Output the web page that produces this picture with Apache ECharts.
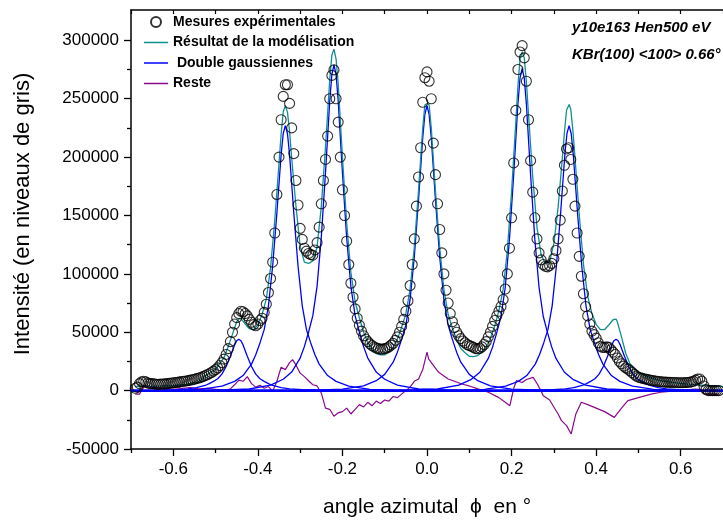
<!DOCTYPE html>
<html><head><meta charset="utf-8">
<script src="https://cdn.jsdelivr.net/npm/echarts@6/dist/echarts.min.js"></script>
<style>html,body{margin:0;padding:0;background:#fff}#c{width:723px;height:530px}</style>
</head><body><div id="c"></div>
<script>
// ---------- data ----------
const xTickLabels = [-0.6, -0.4, -0.2, 0, 0.2, 0.4, 0.6];
const xMinorTicks = [-0.7, -0.5, -0.3, -0.1, 0.1, 0.3, 0.5];
const yTickLabels = [-50000, 0, 50000, 100000, 150000, 200000, 250000, 300000];
const yMinorTicks = [-25000, 25000, 75000, 125000, 175000, 225000, 275000];

// measured points: sampled every 0.005 from -0.69
const mesStart = -0.69, mesStep = 0.005;
const mesValues = [
 2000,3000,6000,7500,8000,7500,6500,6000,6000,5800,
 5500,5500,5600,5700,5800,6000,6200,6500,6800,7000,
 7200,7500,7800,8000,8300,8600,9000,9300,9800,10300,
 10800,11300,12000,12800,13600,14500,15500,16700,18000,19500,
 21500,24000,27000,31000,36000,42000,50000,57000,62500,66000,
 68000,67500,66000,64000,61000,58500,56500,55500,57000,60000,
 62000,67000,74000,84000,96000,110000,135000,168000,200000,232000,
 252000,262000,262000,246000,225000,203000,180000,159000,139000,129500,
 122000,119500,117500,116500,116000,120500,126800,140000,160000,180000,
 198000,218000,250000,270000,274700,250000,230000,200000,172000,150000,
 128000,108000,92000,80000,70000,62000,56000,51000,47000,44000,
 42000,40000,38500,37500,36500,36000,35500,35500,36000,36500,
 37500,39000,40500,43000,46000,50000,55000,61000,68000,77000,
 90000,108000,130000,158000,183000,208000,247000,268000,273000,265000,
 250000,212000,185000,160000,138000,118000,100000,86000,75000,66000,
 59000,54000,50000,47000,44500,42500,41000,39500,38500,38000,
 37000,36000,35800,36300,37500,39500,42000,46000,50000,55000,
 60000,64000,68000,72000,78000,87000,100000,122000,148000,195000,
 240000,275000,290000,295500,285000,265000,232000,197000,170000,148000,
 130000,118000,112000,108000,106500,106000,107000,109000,113000,120000,
 130000,146000,171000,193000,207000,208000,198000,181000,158000,135000,
 115000,98000,83000,72000,64000,57000,51000,48000,45000,41000,
 38000,37000,37000,37500,37000,35000,33000,31000,28000,25000,
 23000,21000,19500,18500,17000,15500,14000,12500,11500,11000,
 10500,10000,9600,9200,8900,8600,8300,8000,7800,7600,
 7400,7300,7200,7100,7000,7000,6900,6800,6800,6800,
 6900,7000,7200,7500,8000,9000,10000,10000,8000,4000,
 1000,0,0,0,0,0,0
];

// model (sum) curve
const modelX = [-0.69,-0.66,-0.63,-0.60,-0.57,-0.54,-0.52,-0.50,-0.48,-0.47,
 -0.46,-0.45,-0.445,-0.44,-0.43,-0.42,-0.41,-0.40,-0.39,-0.38,
 -0.37,-0.36,-0.35,-0.345,-0.34,-0.335,-0.33,-0.325,-0.32,-0.31,
 -0.30,-0.29,-0.28,-0.27,-0.26,-0.25,-0.24,-0.23,-0.225,-0.22,
 -0.215,-0.21,-0.20,-0.19,-0.18,-0.17,-0.16,-0.15,-0.14,-0.13,
 -0.12,-0.11,-0.10,-0.09,-0.08,-0.07,-0.06,-0.05,-0.04,-0.03,
 -0.02,-0.01,-0.005,0,0.005,0.01,0.02,0.03,0.04,0.05,
 0.06,0.07,0.08,0.09,0.10,0.11,0.12,0.13,0.14,0.15,
 0.16,0.17,0.18,0.19,0.20,0.21,0.215,0.22,0.225,0.23,
 0.235,0.24,0.25,0.26,0.27,0.28,0.29,0.30,0.31,0.32,
 0.325,0.33,0.336,0.34,0.345,0.35,0.36,0.37,0.38,0.39,
 0.40,0.41,0.42,0.43,0.44,0.447,0.45,0.46,0.47,0.48,
 0.50,0.52,0.55,0.58,0.61,0.64,0.67,0.70];
const modelY = [3600,3700,3900,4400,5300,7500,13500,18300,28300,37700,
 48400,59000,61500,61600,57100,53000,52100,56400,65100,78600,
 104900,145900,194400,219700,238800,244000,238500,222000,199000,158500,
 123800,110000,109000,111000,122800,157600,208600,266400,287300,292500,
 284000,262800,200300,143500,101400,76100,62400,50200,41100,35800,
 31700,30700,30600,33400,37200,44100,54300,65700,87000,123000,
 171800,225400,244700,246000,244800,225400,171200,122800,86800,65200,
 53700,43800,36100,32500,29450,29200,30000,32800,37400,44700,
 55300,68500,86500,120000,170400,229800,260700,284000,290000,285000,
 264800,236600,183300,140300,116100,109000,110700,125900,156700,199000,
 221100,240100,245000,241000,222900,199500,150900,108400,81000,66100,
 56800,52200,52300,56200,60700,61300,59000,46000,32000,23000,
 15500,12000,8500,7000,5800,5000,4200,3600];

// individual fitted components [angle, value]
const compA = [[-0.7,0],[-0.645,220],[-0.595,750],[-0.565,1540],[-0.545,2510],[-0.525,4400],[-0.515,5940],[-0.505,7920],[-0.495,10120],[-0.485,14080],[-0.475,20680],[-0.465,29480],[-0.455,39160],[-0.45,42680],[-0.445,44000],[-0.44,42680],[-0.435,39160],[-0.425,29480],[-0.415,20680],[-0.405,14080],[-0.395,10120],[-0.385,7920],[-0.375,5940],[-0.365,4400],[-0.345,2510],[-0.325,1540],[-0.295,750],[-0.245,220],[-0.145,0],[0.7,0]];
const compB = [[-0.7,0],[-0.635,0],[-0.535,1135],[-0.485,3860],[-0.455,7950],[-0.435,12940],[-0.415,22700],[-0.405,30650],[-0.395,40860],[-0.385,52210],[-0.375,72640],[-0.365,106690],[-0.355,152090],[-0.345,202030],[-0.34,220190],[-0.335,227000],[-0.33,220190],[-0.325,202030],[-0.315,152090],[-0.305,106690],[-0.295,72640],[-0.285,52210],[-0.275,40860],[-0.265,30650],[-0.255,22700],[-0.235,12940],[-0.215,7950],[-0.185,3860],[-0.135,1135],[-0.035,0],[0.7,0]];
const compC = [[-0.7,0],[-0.52,0],[-0.42,1395],[-0.37,4740],[-0.34,9770],[-0.32,15900],[-0.30,27900],[-0.29,37670],[-0.28,50220],[-0.27,64170],[-0.26,89280],[-0.25,131130],[-0.24,186930],[-0.23,248310],[-0.225,270630],[-0.22,279000],[-0.215,270630],[-0.21,248310],[-0.20,186930],[-0.19,131130],[-0.18,89280],[-0.17,64170],[-0.16,50220],[-0.15,37670],[-0.14,27900],[-0.12,15900],[-0.10,9770],[-0.07,4740],[-0.02,1395],[0.08,0],[0.7,0]];
const compD = [[-0.7,0],[-0.3,0],[-0.2,1220],[-0.15,4150],[-0.12,8540],[-0.10,13910],[-0.08,24400],[-0.07,32940],[-0.06,43920],[-0.05,56120],[-0.04,78080],[-0.03,114680],[-0.02,163480],[-0.01,217160],[-0.005,236680],[0,244000],[0.005,236680],[0.01,217160],[0.02,163480],[0.03,114680],[0.04,78080],[0.05,56120],[0.06,43920],[0.07,32940],[0.08,24400],[0.10,13910],[0.12,8540],[0.15,4150],[0.2,1220],[0.3,0],[0.7,0]];
const compE = [[-0.7,0],[-0.075,0],[0.025,1380],[0.075,4690],[0.105,9660],[0.125,15730],[0.145,27600],[0.155,37260],[0.165,49680],[0.175,63480],[0.185,88320],[0.195,129720],[0.205,184920],[0.215,245640],[0.22,267720],[0.225,276000],[0.23,267720],[0.235,245640],[0.245,184920],[0.255,129720],[0.265,88320],[0.275,63480],[0.285,49680],[0.295,37260],[0.305,27600],[0.325,15730],[0.345,9660],[0.375,4690],[0.425,1380],[0.525,0],[0.7,0]];
const compF = [[-0.7,0],[0.036,0],[0.136,1135],[0.186,3860],[0.216,7950],[0.236,12940],[0.256,22700],[0.266,30650],[0.276,40860],[0.286,52210],[0.296,72640],[0.306,106690],[0.316,152090],[0.326,202030],[0.331,220190],[0.336,227000],[0.341,220190],[0.346,202030],[0.356,152090],[0.366,106690],[0.376,72640],[0.386,52210],[0.396,40860],[0.406,30650],[0.416,22700],[0.436,12940],[0.456,7950],[0.486,3860],[0.536,1135],[0.636,0],[0.7,0]];
const compG = [[-0.7,0],[0.147,0],[0.247,220],[0.297,750],[0.327,1540],[0.347,2510],[0.367,4400],[0.377,5940],[0.387,7920],[0.397,10120],[0.407,14080],[0.417,20680],[0.427,29480],[0.437,39160],[0.442,42680],[0.447,44000],[0.452,42680],[0.457,39160],[0.467,29480],[0.477,20680],[0.487,14080],[0.497,10120],[0.507,7920],[0.517,5940],[0.527,4400],[0.547,2510],[0.567,1540],[0.597,750],[0.647,220],[0.7,0]];
const baseline = [[-0.7,0],[0.7,0]];

// residual
const resteData = [[-0.69,-3000],[-0.68,-3000],[-0.675,0],[-0.67,3000],[-0.66,3500],[-0.64,2500],[-0.62,2000],[-0.60,2500],[-0.58,2000],[-0.56,2500],[-0.54,1500],[-0.52,2000],[-0.50,1000],[-0.48,0],[-0.465,1500],[-0.455,5000],[-0.445,9000],[-0.435,8000],[-0.425,12000],[-0.415,6000],[-0.405,3000],[-0.395,4500],[-0.385,2000],[-0.375,3500],[-0.365,-500],[-0.355,8000],[-0.345,20000],[-0.335,18000],[-0.325,24000],[-0.318,26500],[-0.31,22000],[-0.30,15000],[-0.29,12000],[-0.28,8500],[-0.27,5000],[-0.26,4000],[-0.25,-2000],[-0.24,-15000],[-0.23,-16000],[-0.22,-22000],[-0.21,-19000],[-0.20,-18000],[-0.19,-15000],[-0.18,-20000],[-0.17,-16000],[-0.16,-12000],[-0.15,-14000],[-0.14,-10000],[-0.13,-13000],[-0.12,-9000],[-0.11,-11000],[-0.10,-8000],[-0.09,-9000],[-0.08,-5000],[-0.07,-6000],[-0.06,-3000],[-0.05,0],[-0.04,3000],[-0.03,8000],[-0.02,10000],[-0.01,18000],[0,33000],[0.004,27000],[0.0275,15700],[0.05,10000],[0.065,8000],[0.082,5700],[0.10,4000],[0.12,1500],[0.145,-1400],[0.17,-6000],[0.185,-10000],[0.196,-12900],[0.205,2000],[0.212,8600],[0.225,7000],[0.235,9500],[0.251,11400],[0.262,5000],[0.275,-4300],[0.29,-8000],[0.30,-14000],[0.31,-20000],[0.318,-25700],[0.33,-30000],[0.341,-37100],[0.352,-20000],[0.365,-10000],[0.38,-12000],[0.40,-15000],[0.42,-18000],[0.443,-22900],[0.46,-15000],[0.475,-8600],[0.50,-6000],[0.53,-3000],[0.553,-1400],[0.58,-500],[0.60,0],[0.632,1400],[0.645,1000],[0.655,-2500],[0.67,-3000],[0.69,-3000]];

// ---------- chart ----------
const FONT = '"Liberation Sans", Arial, sans-serif';
const mesData = mesValues.map((v, i) => [+(mesStart + i * mesStep).toFixed(3), v]);
const modelData = modelX.map((x, i) => [x, modelY[i]]);
const BLUE = '#0000ff', TEAL = '#12908e', PURPLE = '#8a0a8a';
const GNAME = ' Double gaussiennes';
const LINE_ICON = 'path://M0,0L24,0L24,1.5L0,1.5Z';
function lineS(name, data, color, width, z) {
  return {type: 'line', name, data, symbol: 'none', showSymbol: false, clip: true,
    lineStyle: {color, width}, itemStyle: {color}, z, animation: false, emphasis: {disabled: true}};
}
const series = [
  lineS('Reste', resteData, PURPLE, 1.2, 1),
  lineS(GNAME, baseline, BLUE, 2.6, 2),
  ...[compA, compB, compC, compD, compE, compF, compG].map(c => lineS(GNAME, c, BLUE, 1.3, 2)),
  lineS('Résultat de la modélisation', modelData, TEAL, 1.3, 3),
  {type: 'scatter', name: 'Mesures expérimentales', data: mesData, symbol: 'circle', symbolSize: 10,
   itemStyle: {color: 'rgba(255,255,255,0)', borderColor: '#000', borderWidth: 1.1}, z: 4,
   animation: false, emphasis: {disabled: true}}
];
const axisBase = {type: 'value', min: -0.7, max: 0.7, splitLine: {show: false}};
const option = {
  animation: false,
  backgroundColor: '#fff',
  grid: {left: 131, top: 10, width: 595, height: 439},
  legend: {
    orient: 'vertical', left: 139, top: 10, itemWidth: 24, itemHeight: 10, itemGap: 6.5,
    selectedMode: false, symbolKeepAspect: true,
    textStyle: {fontFamily: FONT, fontWeight: 'bold', fontSize: 14, color: '#000', lineHeight: 14},
    data: [{name: 'Mesures expérimentales', icon: 'circle'},
           {name: 'Résultat de la modélisation', icon: LINE_ICON},
           {name: GNAME, icon: LINE_ICON},
           {name: 'Reste', icon: LINE_ICON}]
  },
  xAxis: [
    Object.assign({}, axisBase, {position: 'bottom',
      axisLine: {onZero: false, lineStyle: {color: '#000', width: 1.5}},
      axisTick: {customValues: xTickLabels, length: 7, lineStyle: {color: '#000', width: 1.3}},
      axisLabel: {customValues: xTickLabels, formatter: v => v.toFixed(1), color: '#000', fontSize: 17, fontFamily: FONT, margin: 12},
      name: 'angle azimutal  ϕ  en °', nameLocation: 'middle', nameGap: 48,
      nameTextStyle: {fontFamily: FONT, fontSize: 21, color: '#000'}}),
    Object.assign({}, axisBase, {position: 'bottom', axisLine: {show: false, onZero: false},
      axisTick: {customValues: xMinorTicks, length: 4, lineStyle: {color: '#000', width: 1.3}},
      axisLabel: {show: false}}),
    Object.assign({}, axisBase, {position: 'top', interval: 0.1,
      axisLine: {onZero: false, lineStyle: {color: '#000', width: 1.5}},
      axisTick: {inside: true, length: 4, lineStyle: {color: '#000', width: 1.2}},
      axisLabel: {show: false}})
  ],
  yAxis: [
    {type: 'value', min: -50000, max: 326000, position: 'left', splitLine: {show: false},
      axisLine: {show: true, onZero: false, lineStyle: {color: '#000', width: 1.5}},
      axisTick: {show: true, customValues: yTickLabels, length: 7, lineStyle: {color: '#000', width: 1.3}},
      axisLabel: {customValues: yTickLabels, formatter: v => String(v), color: '#000', fontSize: 17, fontFamily: FONT, margin: 12}},
    {type: 'value', min: -50000, max: 326000, position: 'left', splitLine: {show: false},
      axisLine: {show: false, onZero: false},
      axisTick: {show: true, customValues: yMinorTicks, length: 4, lineStyle: {color: '#000', width: 1.3}},
      axisLabel: {show: false}}
  ],
  graphic: [
    {type: 'text', x: 23, y: 214, rotation: Math.PI / 2,
     style: {text: 'Intensité (en niveaux de gris)', font: '22px "Liberation Sans", Arial, sans-serif', fill: '#000', align: 'center', verticalAlign: 'middle'}},
    {type: 'text', left: 572, top: 20, style: {text: 'y10e163 Hen500 eV', font: 'italic bold 15px "Liberation Sans", Arial, sans-serif', fill: '#000'}},
    {type: 'text', left: 572, top: 47, style: {text: 'KBr(100) <100> 0.66°', font: 'italic bold 15px "Liberation Sans", Arial, sans-serif', fill: '#000'}}
  ],
  series
};
const chart = echarts.init(document.getElementById('c'), null, {renderer: 'canvas'});
chart.setOption(option);
</script>
</body></html>
